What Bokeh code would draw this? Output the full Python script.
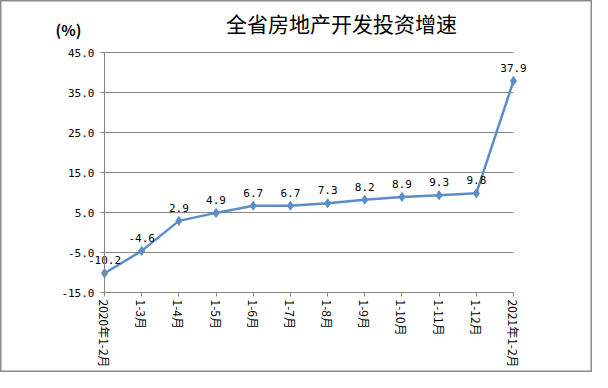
import math
from bokeh.plotting import figure
from bokeh.models import Range1d, FixedTicker, NumeralTickFormatter, Label, ColumnDataSource
from bokeh.core.properties import value
from bokeh.embed import file_html
from bokeh.resources import INLINE

categories = ["2020年1-2月", "1-3月", "1-4月", "1-5月", "1-6月", "1-7月", "1-8月",
              "1-9月", "1-10月", "1-11月", "1-12月", "2021年1-2月"]
growth = [-10.2, -4.6, 2.9, 4.9, 6.7, 6.7, 7.3, 8.2, 8.9, 9.3, 9.8, 37.9]
y_ticks = [-15, -5, 5, 15, 25, 35, 45]
title_text = "全省房地产开发投资增速"
unit_text = "(%)"

W, H = 592, 372
# plot-area box in canvas pixels
fl, fr, ft, fb = 104.0, 513.0, 52.0, 292.0
n = len(categories)
xs = list(range(n))
ymin, ymax = y_ticks[0], y_ticks[-1]
px_x = (fr - fl) / (n - 1)
px_y = (fb - ft) / (ymax - ymin)
x_range = Range1d(-fl / px_x, (n - 1) + (W - fr) / px_x)
y_range = Range1d(ymin - (H - fb) / px_y, ymax + ft / px_y)

labels = [f"{v:.1f}" for v in growth]
src = ColumnDataSource(dict(x=xs, y=growth, label=labels))

p = figure(width=W, height=H, output_backend="svg", toolbar_location=None,
           x_range=x_range, y_range=y_range,
           min_border=0)
p.outline_line_color = "#8c8c8c"
p.outline_line_width = 2
p.background_fill_color = "white"
p.border_fill_color = "white"
p.xgrid.grid_line_color = None
p.ygrid.grid_line_color = None

grid_col = "#868686"
# horizontal grid lines across the plot area only
p.segment(x0=[0] * len(y_ticks), x1=[n - 1] * len(y_ticks), y0=y_ticks, y1=y_ticks,
          line_color=grid_col, line_width=1)

p.yaxis.fixed_location = 0
p.yaxis.bounds = (ymin, ymax)
p.xaxis.fixed_location = ymin
p.xaxis.bounds = (0, n - 1)

p.yaxis.ticker = FixedTicker(ticks=y_ticks)
p.yaxis.formatter = NumeralTickFormatter(format="0.0")
p.xaxis.ticker = FixedTicker(ticks=xs)
p.xaxis.major_label_overrides = {i: c for i, c in enumerate(categories)}
p.xaxis.major_label_orientation = -math.pi / 2

for ax in (p.xaxis, p.yaxis):
    ax.axis_line_color = grid_col
    ax.major_tick_line_color = grid_col
    ax.minor_tick_line_color = None
    ax.major_tick_in = 0
    ax.major_tick_out = 4
    ax.major_label_text_color = "black"
    ax.major_label_text_font_size = "12px"

p.yaxis.major_label_text_font = "DejaVu Sans Mono"
p.yaxis.major_label_text_font_size = "11px"
p.yaxis.major_label_standoff = 6
p.xaxis.major_label_text_font = "Noto Sans CJK SC"
p.xaxis.major_label_standoff = 3

line_col = "#5B8DC8"
p.line("x", "y", source=src, line_color=line_col, line_width=2.5)
p.scatter("x", "y", source=src, marker="diamond", size=9, fill_color=line_col, line_color=line_col)
p.text("x", "y", text="label", source=src, text_font=value("DejaVu Sans Mono"),
       text_font_size="11px", text_align="center", text_baseline="bottom",
       y_offset=-9, text_color="black")

p.add_layout(Label(x=(341 - fl) / px_x, y=ymax + (ft - 22) / px_y, text=title_text,
                   text_font="Noto Sans CJK SC", text_font_size="21px", text_font_style="normal",
                   text_align="center", text_baseline="middle", text_color="black"))
p.add_layout(Label(x=(68 - fl) / px_x, y=ymax + (ft - 29) / px_y, text=unit_text,
                   text_font="Noto Sans CJK SC", text_font_size="15px", text_font_style="bold",
                   text_align="center", text_baseline="middle", text_color="black"))

open("out.html", "w").write(file_html(p, INLINE))
